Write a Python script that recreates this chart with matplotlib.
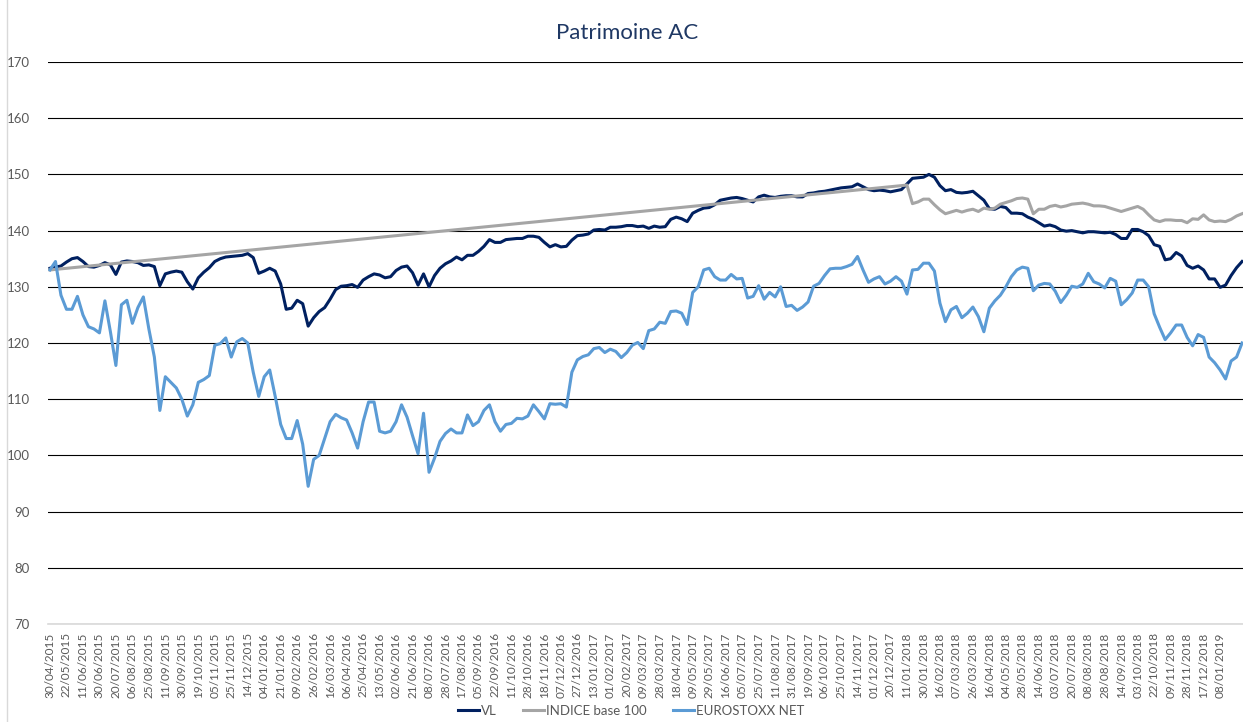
import numpy as np
import pandas as pd
import matplotlib
matplotlib.use("Agg")
import matplotlib.pyplot as plt
from matplotlib.lines import Line2D

plt.rcParams['font.family'] = ['Lato', 'DejaVu Sans']

# date labels shown on the category axis (one every 13 trading days)
tick_labels = [
    "30/04/2015", "22/05/2015", "11/06/2015", "30/06/2015", "20/07/2015", "06/08/2015",
    "25/08/2015", "11/09/2015", "30/09/2015", "19/10/2015", "05/11/2015", "25/11/2015",
    "14/12/2015", "04/01/2016", "21/01/2016", "09/02/2016", "26/02/2016", "16/03/2016",
    "06/04/2016", "25/04/2016", "13/05/2016", "02/06/2016", "21/06/2016", "08/07/2016",
    "28/07/2016", "17/08/2016", "05/09/2016", "22/09/2016", "11/10/2016", "28/10/2016",
    "18/11/2016", "07/12/2016", "27/12/2016", "13/01/2017", "01/02/2017", "20/02/2017",
    "09/03/2017", "28/03/2017", "18/04/2017", "09/05/2017", "29/05/2017", "16/06/2017",
    "05/07/2017", "25/07/2017", "11/08/2017", "31/08/2017", "19/09/2017", "06/10/2017",
    "25/10/2017", "14/11/2017", "01/12/2017", "20/12/2017", "11/01/2018", "30/01/2018",
    "16/02/2018", "07/03/2018", "26/03/2018", "16/04/2018", "04/05/2018", "28/05/2018",
    "14/06/2018", "03/07/2018", "20/07/2018", "08/08/2018", "28/08/2018", "14/09/2018",
    "03/10/2018", "22/10/2018", "09/11/2018", "28/11/2018", "17/12/2018", "08/01/2019",
]

# values read every third of a label step
vl = [
    133.3, 133.5, 133.7, 134.4, 135.0, 135.2, 134.5, 133.6, 133.5, 133.8,
    134.3, 133.9, 132.2, 134.4, 134.6, 134.5, 134.3, 133.8, 133.9, 133.6,
    130.2, 132.3, 132.6, 132.8, 132.6, 130.9, 129.6, 131.6, 132.6, 133.4,
    134.5, 135.0, 135.3, 135.4, 135.5, 135.6, 135.9, 135.2, 132.4, 132.8,
    133.3, 132.8, 130.5, 126.0, 126.2, 127.6, 127.0, 123.0, 124.5, 125.6,
    126.3, 127.8, 129.5, 130.1, 130.2, 130.4, 129.9, 131.2, 131.8, 132.3,
    132.1, 131.6, 131.8, 132.9, 133.5, 133.7, 132.5, 130.3, 132.3, 130.0,
    132.0, 133.3, 134.1, 134.6, 135.3, 134.8, 135.6, 135.6, 136.3, 137.2,
    138.4, 137.9, 137.9, 138.4, 138.5, 138.6, 138.6, 139.0, 139.0, 138.8,
    137.9, 137.1, 137.5, 137.1, 137.2, 138.3, 139.1, 139.2, 139.4, 140.1,
    140.2, 140.1, 140.6, 140.6, 140.7, 140.9, 140.9, 140.7, 140.8, 140.4,
    140.8, 140.6, 140.7, 142.0, 142.4, 142.1, 141.6, 143.1, 143.6, 144.0,
    144.1, 144.6, 145.4, 145.6, 145.8, 145.9, 145.7, 145.4, 145.1, 146.0,
    146.3, 146.0, 145.9, 146.1, 146.2, 146.2, 146.0, 146.0, 146.6, 146.7,
    146.9, 147.0, 147.2, 147.4, 147.6, 147.7, 147.8, 148.3, 147.8, 147.3,
    147.1, 147.2, 147.1, 146.9, 147.1, 147.3, 148.3, 149.3, 149.4, 149.5,
    150.0, 149.5, 148.0, 147.1, 147.3, 146.8, 146.7, 146.8, 147.0, 146.2,
    145.4, 143.9, 143.8, 144.3, 144.1, 143.1, 143.1, 143.0, 142.4, 142.0,
    141.4, 140.8, 141.0, 140.7, 140.1, 139.9, 140.0, 139.8, 139.6, 139.8,
    139.8, 139.7, 139.6, 139.7, 139.3, 138.6, 138.6, 140.2, 140.2, 139.8,
    139.1, 137.5, 137.2, 134.8, 135.0, 136.1, 135.5, 133.8, 133.3, 133.7,
    133.0, 131.4, 131.4, 129.9, 130.3, 132.0, 133.4, 134.5,
]

# index has no values between the first day and mid-January 2018
indice = [133.0] + [None] * 155 + [
    148.1, 144.8, 145.1, 145.6,
    145.6, 144.6, 143.7, 143.0, 143.3, 143.6, 143.3, 143.6, 143.8, 143.4,
    144.0, 143.8, 144.0, 144.7, 145.0, 145.3, 145.7, 145.8, 145.6, 143.0,
    143.8, 143.8, 144.3, 144.5, 144.2, 144.4, 144.7, 144.8, 144.9, 144.7,
    144.4, 144.4, 144.3, 144.0, 143.7, 143.4, 143.7, 144.0, 144.3, 143.8,
    142.8, 141.9, 141.6, 141.9, 141.9, 141.8, 141.8, 141.4, 142.1, 142.0,
    142.8, 141.9, 141.6, 141.7, 141.6, 142.0, 142.6, 143.0,
]

eurostoxx = [
    133.0, 134.5, 128.5, 126.0, 126.0, 128.3, 125.0, 122.9, 122.5, 121.8,
    127.5, 122.0, 116.0, 126.8, 127.6, 123.5, 126.3, 128.2, 122.5, 117.5,
    108.0, 114.0, 113.0, 112.0, 110.0, 107.0, 109.0, 113.0, 113.5, 114.2,
    119.6, 119.9, 120.9, 117.5, 120.2, 120.8, 120.0, 114.8, 110.5, 114.0,
    115.2, 110.5, 105.5, 103.0, 103.0, 106.2, 102.0, 94.5, 99.3, 100.0,
    103.0, 106.0, 107.3, 106.7, 106.3, 104.0, 101.3, 106.0, 109.5, 109.5,
    104.3, 104.0, 104.3, 106.0, 109.0, 106.8, 103.5, 100.3, 107.5, 97.0,
    99.5, 102.5, 103.9, 104.7, 104.0, 104.0, 107.2, 105.3, 106.0, 108.0,
    109.0, 106.0, 104.3, 105.5, 105.7, 106.6, 106.5, 107.0, 109.0, 107.8,
    106.5, 109.2, 109.1, 109.2, 108.6, 114.8, 117.0, 117.6, 117.9, 119.0,
    119.2, 118.3, 118.9, 118.5, 117.4, 118.3, 119.6, 120.1, 119.0, 122.2,
    122.5, 123.7, 123.5, 125.6, 125.7, 125.3, 123.3, 129.0, 130.0, 133.0,
    133.3, 131.8, 131.2, 131.2, 132.2, 131.4, 131.5, 128.0, 128.3, 130.2,
    127.8, 129.0, 128.2, 130.0, 126.5, 126.7, 125.8, 126.4, 127.3, 130.1,
    130.6, 132.0, 133.2, 133.3, 133.3, 133.6, 134.0, 135.4, 133.0, 130.8,
    131.4, 131.8, 130.5, 131.0, 131.8, 131.0, 128.7, 133.0, 133.1, 134.2,
    134.2, 132.8, 127.1, 123.8, 125.9, 126.5, 124.5, 125.3, 126.4, 124.7,
    122.0, 126.2, 127.5, 128.5, 130.0, 131.8, 133.0, 133.5, 133.3, 129.3,
    130.3, 130.6, 130.5, 129.2, 127.2, 128.5, 130.1, 129.9, 130.5, 132.4,
    130.9, 130.5, 129.8, 131.5, 131.0, 126.8, 127.7, 128.9, 131.2, 131.2,
    130.0, 125.2, 122.8, 120.6, 121.8, 123.2, 123.2, 121.0, 119.5, 121.5,
    121.0, 117.5, 116.5, 115.2, 113.6, 116.8, 117.5, 120.0,
]

W, H = 1243, 722
fig = plt.figure(figsize=(W / 100, H / 100), dpi=100)
ax = fig.add_axes([48 / W, (H - 624) / H, (W - 48) / W, 562 / H])

x = np.arange(len(vl)) / 3.0
ind = pd.Series(indice, index=x, dtype=float).dropna()  # Excel joins over the gap

ax.plot(x, vl, color='#002060', lw=2.2, label='VL', solid_joinstyle='round')
ax.plot(ind.index, ind.values, color='#A5A5A5', lw=2.2, label='INDICE base 100',
        solid_joinstyle='round')
ax.plot(x, eurostoxx, color='#5B9BD5', lw=2.2, label='EUROSTOXX NET', solid_joinstyle='round')

ax.set_ylim(70, 170)
ax.set_xlim(-0.12, 72.39)
ax.set_yticks(range(70, 171, 10))
ax.set_xticks(np.arange(len(tick_labels)))
ax.set_xticklabels(tick_labels, rotation=90)
ax.tick_params(axis='y', length=0, pad=13, labelsize=9.5, labelcolor='#595959')
ax.tick_params(axis='x', length=0, pad=6, labelsize=8.5, labelcolor='#595959')

ax.set_axisbelow(True)
ax.grid(axis='y', color='black', lw=0.8)
for s in ['top', 'right', 'left']:
    ax.spines[s].set_visible(False)
ax.spines['bottom'].set_color('#d9d9d9')
ax.spines['bottom'].set_linewidth(1.2)

fig.text(627 / W, 1 - 33 / H, 'Patrimoine AC', ha='center', va='center',
         fontsize=16, color='#1f3864')

fig.legend(loc='center', bbox_to_anchor=(631 / W, 1 - 711 / H), ncol=3, frameon=False,
           fontsize=9.5, handlelength=1.6, handletextpad=0.15, columnspacing=2.0,
           labelcolor='#595959')

# chart area border on the left
fig.add_artist(Line2D([7 / W, 7 / W], [0, 1], color='#d9d9d9', lw=1))

fig.savefig('out.png', dpi=100)
